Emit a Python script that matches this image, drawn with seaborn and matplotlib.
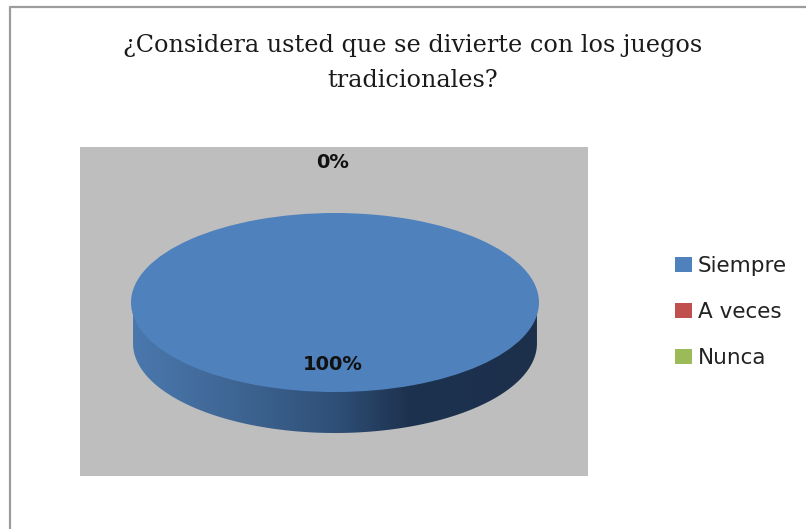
import numpy as np
import seaborn as sns
from matplotlib import pyplot as plt
from matplotlib.colors import LinearSegmentedColormap
from matplotlib.patches import Polygon

categories = ['Siempre', 'A veces', 'Nunca']
values = [100, 0, 0]
title = '¿Considera usted que se divierte con los juegos\ntradicionales?'

W, H = 806, 529
sns.set_theme(style='white')
plt.rcParams['font.family'] = ['DejaVu Sans']
colors = ['#4F81BD', '#C0504D', '#9BBB59']

fig = plt.figure(figsize=(W / 100, H / 100), dpi=100)

# outer chart border, only top and left are visible in the picture
fig.add_artist(plt.Line2D([10 / W, 10 / W, 806 / W], [0, 1 - 7 / H, 1 - 7 / H],
                          color='#9c9c9c', lw=1.6, transform=fig.transFigure))

# grey plot area, unit circle of the pie is stretched to the flat ellipse
left, right, top, bottom = 80, 588, 147, 476
cx, cy, rx, ry = 335, 302.5, 204, 89.5
ax = fig.add_axes([left / W, 1 - bottom / H, (right - left) / W, (bottom - top) / H])
wedges, _ = ax.pie(values, colors=colors, startangle=90, counterclock=False, radius=1,
                   wedgeprops={'linewidth': 0, 'zorder': 3})
ax.set_aspect('auto')
ax.set_frame_on(True)
ax.set_facecolor('#BEBEBE')
for s in ax.spines.values():
    s.set_visible(False)
ax.set_xticks([])
ax.set_yticks([])

# side wall with the left to right shading
depth = 41 / ry
t = np.linspace(np.pi, 2 * np.pi, 200)
outline = np.column_stack([np.cos(t) * 0.99, np.sin(t) - depth])
outline = np.vstack([[-0.99, 0], outline, [0.99, 0]])
shade = LinearSegmentedColormap.from_list('side', [(0, '#4a78ae'), (0.25, '#3f6694'), (0.5, '#2f5078'),
                                                   (0.68, '#1d324f'), (1, '#1c304c')])
grad = np.linspace(0, 1, 256).reshape(1, -1)
im = ax.imshow(grad, cmap=shade, extent=[-1, 1, -1 - depth, 0.2], aspect='auto', zorder=2)
clip = Polygon(outline, closed=True, transform=ax.transData, fc='none', ec='none')
ax.add_patch(clip)
im.set_clip_path(clip)
ax.set_xlim((left - cx) / rx, (right - cx) / rx)
ax.set_ylim((cy - bottom) / ry, (cy - top) / ry)

# data labels
ax.text(-2 / rx, (cy - 364) / ry, f'{values[0]}%', ha='center', va='center', fontsize=14,
        fontweight='bold', color='#111111', zorder=4)
ax.text(-2 / rx, (cy - 162) / ry, f'{values[1]}%', ha='center', va='center', fontsize=14,
        fontweight='bold', color='#111111', zorder=4)

fig.text(413 / W, 1 - 63 / H, title, ha='center', va='center', fontsize=17.2,
         family='DejaVu Serif', color='#1a1a1a', linespacing=1.62)

fig.legend(wedges, categories, loc='center left', bbox_to_anchor=(664 / W, 1 - 312 / H),
           frameon=False, fontsize=15.5, handlelength=0.78, handleheight=0.7, handletextpad=0.28,
           labelspacing=1.22, borderpad=0, labelcolor='#222222')

fig.savefig('out.png', dpi=100)
